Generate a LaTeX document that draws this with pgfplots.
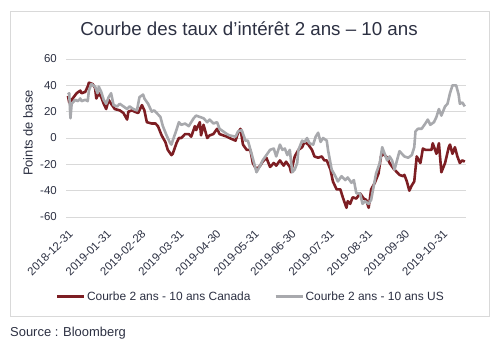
\documentclass[border=0pt]{standalone}
\usepackage{pgfplots}
\pgfplotsset{compat=1.18}
\usepackage{fontspec}
\setmainfont{Liberation Sans}
\definecolor{txt}{RGB}{44,48,66}
\definecolor{cad}{RGB}{125,30,35}
\definecolor{usg}{RGB}{168,169,173}
\definecolor{gridc}{RGB}{217,217,217}
\begin{document}
\begin{tikzpicture}[x=1bp,y=1bp]
\path (0,0) rectangle (500,351);
\draw[gridc, line width=1bp] (10,35) rectangle (489,339);
\node[text=txt, font=\fontsize{18.8}{20}\selectfont] at (249,322.5) {Courbe des taux d’intérêt 2 ans – 10 ans};
\node[text=txt, rotate=90, font=\fontsize{13}{15}\selectfont] at (28,218) {Points de base};
\node[text=txt, anchor=west, font=\fontsize{13}{15}\selectfont, inner sep=0pt] at (10,18) {Source : Bloomberg};
\begin{axis}[
  at={(66bp,134bp)}, anchor=south west, scale only axis,
  width=400bp, height=158bp,
  xmin=-1.6, xmax=323, ymin=-60, ymax=60,
  axis line style={draw=none}, major tick length=0pt,
  ymajorgrids, grid style={gridc, line width=0.8bp},
  ytick={-60,-40,...,60},
  xtick={0,31,59,90,120,151,181,212,243,273,304},
  xticklabels={2018-12-31,2019-01-31,2019-02-28,2019-03-31,2019-04-30,2019-05-31,2019-06-30,2019-07-31,2019-08-31,2019-09-30,2019-10-31},
  /pgf/number format/assume math mode=true,
  tick label style={text=txt, font=\fontsize{11.5}{13}\selectfont},
  yticklabel style={anchor=east, inner sep=0pt, xshift=-9bp},
  xticklabel style={yshift=-12bp, rotate=45, anchor=north east, inner sep=0pt},
  legend style={at={(0.461,-0.506)}, anchor=center, draw=none, fill=none,
    font=\fontsize{12}{14}\selectfont, text=txt, inner sep=0pt,
    nodes={inner sep=1.5bp},
    /tikz/every even column/.append style={column sep=22bp}},
  legend columns=2,
  legend image code/.code={\draw[#1, line width=3bp] (0bp,0bp) -- (27bp,0bp);},
]
\addplot[cad, line width=2.6bp, line join=round] coordinates {
(0,32) (1,27) (3,29) (7,34) (10,36) (11,34) (14,35) (16,39) (17,42) (20,41) (22,38) (23,30) (25,34) (27,31) (29,26) (31,22) (33,29) (35,26) (38,22) (42,21) (45,19) (48,14) (49,20) (52,21) (54,20) (57,19) (60,25) (62,21) (64,12) (68,11) (71,11) (73,9) (76,2) (79,-3) (81,-9) (84,-13) (85,-12) (88,-4) (90,0) (92,0) (95,3) (98,3) (100,1) (103,9) (104,6) (107,12) (108,2) (110,10) (113,0) (115,2) (118,3) (121,7) (123,3) (126,2) (129,1) (131,0) (136,-2) (138,4) (140,7) (142,-5) (145,-9) (148,-9) (150,-19) (153,-24) (156,-21) (158,-18) (161,-15) (164,-22) (167,-19) (169,-21) (172,-17) (175,-21) (177,-18) (180,-22) (181,-26) (184,-14) (187,-9) (190,-7) (192,-3) (195,-5) (198,-9) (200,-14) (203,-15) (206,-14) (208,-17) (210,-17) (213,-24) (215,-33) (218,-39) (221,-39) (223,-45) (226,-53) (227,-48) (229,-50) (231,-45) (234,-46) (237,-42) (240,-46) (242,-47) (244,-53) (246,-39) (249,-34) (252,-27) (254,-14) (256,-12) (259,-15) (261,-19) (264,-23) (267,-26) (269,-28) (272,-29) (273,-28) (275,-33) (277,-40) (279,-36) (281,-33) (283,-14) (286,-19) (288,-8) (290,-9) (292,-9) (295,-9) (296,-4) (299,-12) (301,-4) (303,-26) (306,-19) (309,-7) (310,-5) (312,-12) (314,-7) (316,-14) (318,-19) (320,-17) (322,-18)
};
\addlegendentry{Courbe 2 ans - 10 ans Canada}
\addplot[usg, line width=2.6bp, line join=round] coordinates {
(0,33) (1,34) (2,15) (3,26) (6,29) (8,28) (10,30) (11,28) (14,29) (16,28) (17,36) (19,41) (22,39) (24,34) (25,39) (27,35) (29,29) (31,26) (33,31) (35,34) (37,25) (40,24) (42,26) (45,24) (48,22) (50,24) (53,22) (56,21) (58,31) (61,33) (62,30) (65,26) (68,20) (70,21) (72,19) (75,16) (77,9) (80,2) (83,-4) (84,-5) (85,-2) (88,6) (90,12) (92,10) (95,11) (98,9) (100,12) (102,15) (104,17) (107,16) (110,15) (113,12) (115,14) (118,11) (121,12) (123,7) (126,5) (129,3) (131,2) (136,1) (138,5) (141,6) (144,-2) (146,-2) (149,-12) (151,-19) (153,-26) (156,-21) (158,-17) (161,-13) (164,-9) (167,-8) (169,-14) (172,-5) (174,-9) (176,-8) (178,-13) (180,-9) (182,-26) (184,-24) (186,-19) (187,-9) (190,-2) (192,-3) (194,0) (196,-4) (199,-5) (201,1) (203,4) (205,-3) (207,0) (210,-2) (211,-9) (214,-24) (217,-29) (219,-33) (222,-29) (225,-32) (227,-30) (230,-34) (232,-32) (234,-42) (237,-42) (239,-50) (241,-48) (244,-50) (246,-47) (248,-37) (250,-27) (253,-19) (255,-7) (257,-12) (259,-17) (261,-14) (263,-17) (265,-24) (267,-17) (269,-10) (271,-12) (273,-14) (276,-15) (279,-13) (281,-7) (282,5) (284,7) (287,7) (290,11) (292,14) (294,10) (297,12) (299,16) (301,22) (303,17) (306,24) (308,26) (310,34) (312,40) (315,40) (317,33) (318,26) (320,27) (322,24)
};
\addlegendentry{Courbe 2 ans - 10 ans US}
\end{axis}
\end{tikzpicture}
\end{document}
